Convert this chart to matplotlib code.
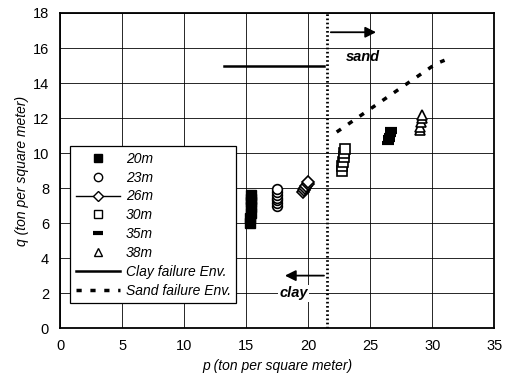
import matplotlib
matplotlib.use("Agg")
import matplotlib.pyplot as plt
from matplotlib.lines import Line2D

plt.rcParams['font.family'] = ['Liberation Sans Narrow', 'Liberation Sans', 'DejaVu Sans']

# ---- data ----
p20 = [15.3, 15.3, 15.35, 15.35, 15.4, 15.4, 15.4]
q20 = [6.0, 6.3, 6.6, 6.9, 7.2, 7.4, 7.6]
p23 = [17.45, 17.45, 17.45, 17.45, 17.5, 17.5, 17.5]
q23 = [7.0, 7.15, 7.3, 7.45, 7.6, 7.8, 7.95]
p26 = [19.55, 19.65, 19.75, 19.85, 19.95, 20.0]
q26 = [7.75, 7.9, 8.0, 8.1, 8.25, 8.35]
p30 = [22.7, 22.75, 22.8, 22.85, 22.9, 22.95]
q30 = [9.0, 9.25, 9.5, 9.75, 10.0, 10.25]
p35 = [26.45, 26.5, 26.55, 26.6, 26.65, 26.7]
q35 = [10.6, 10.75, 10.9, 11.05, 11.2, 11.35]
p38 = [29.0, 29.05, 29.1, 29.15, 29.2]
q38 = [11.3, 11.5, 11.75, 12.0, 12.2]

clay_p = [13.2, 21.3]
clay_q = [15.0, 15.0]
sand_p = [22.3, 30.3, 31.0]
sand_q = [11.2, 15.1, 15.3]

boundary_p = 21.5

xticks = [0, 5, 10, 15, 20, 25, 30, 35]
yticks = [0, 2, 4, 6, 8, 10, 12, 14, 16, 18]

fig = plt.figure(figsize=(5.10, 3.82), dpi=100)
ax = fig.add_axes([0.118, 0.141, 0.851, 0.825])
ax.set_xlim(0, 35)
ax.set_ylim(0, 18)
ax.set_xticks(xticks)
ax.set_yticks(yticks)
ax.grid(True, color='black', lw=0.7, alpha=0.85)
ax.set_axisbelow(True)
ax.tick_params(length=0, labelsize=10.5, pad=8)
for s in ax.spines.values():
    s.set_linewidth(1.3)

ax.set_xlabel('p (ton per square meter)', style='italic', fontsize=10, labelpad=4)
ax.set_ylabel('q (ton per square meter)', style='italic', fontsize=10, labelpad=3)

ms = 7
ax.plot(p20, q20, 's', color='black', ms=ms, ls='none')
ax.plot(p23, q23, 'o', mfc='white', mec='black', mew=1.2, ms=ms, ls='none')
ax.plot(p26, q26, 'D', mfc='white', mec='black', mew=1.2, ms=6, color='black', lw=1)
ax.plot(p30, q30, 's', mfc='white', mec='black', mew=1.2, ms=ms, ls='none')
ax.plot(p35, q35, '_', color='black', mew=3, ms=9, ls='none')
ax.plot(p38, q38, '^', mfc='white', mec='black', mew=1.2, ms=ms, ls='none')

ax.plot(clay_p, clay_q, '-', color='black', lw=1.8)
ax.plot(sand_p, sand_q, color='black', lw=2.5, ls=(0, (1.5, 2.5)))
ax.axvline(boundary_p, color='black', lw=2, ls=(0, (0.6, 0.9)))

ax.annotate('', xy=(25.7, 16.9), xytext=(21.6, 16.9),
            arrowprops=dict(arrowstyle='-|>', color='black', lw=1.3, mutation_scale=16))
ax.text(24.4, 15.5, 'sand', style='italic', fontsize=10.5, ha='center', va='center', weight='bold')
ax.annotate('', xy=(17.9, 3.0), xytext=(21.5, 3.0),
            arrowprops=dict(arrowstyle='-|>', color='black', lw=1.3, mutation_scale=16))
ax.text(18.8, 2.0, 'clay', style='italic', fontsize=10.5, ha='center', va='center', weight='bold',
        bbox=dict(facecolor='white', edgecolor='none', pad=1))

handles = [
    Line2D([], [], marker='s', color='black', ls='none', ms=6),
    Line2D([], [], marker='o', mfc='white', mec='black', ls='none', ms=6),
    Line2D([], [], marker='D', mfc='white', mec='black', color='black', lw=1, ms=5),
    Line2D([], [], marker='s', mfc='white', mec='black', ls='none', ms=6),
    Line2D([], [], marker='_', color='black', mew=3, ls='none', ms=7),
    Line2D([], [], marker='^', mfc='white', mec='black', ls='none', ms=6),
    Line2D([], [], color='black', lw=1.8),
    Line2D([], [], color='black', lw=2.5, ls=(0, (1.5, 2.5))),
]
labels = ['20m', '23m', '26m', '30m', '35m', '38m', 'Clay failure Env.', 'Sand failure Env.']
leg = ax.legend(handles, labels, loc='lower left', bbox_to_anchor=(0.023, 0.079),
                fancybox=False, edgecolor='black', framealpha=1,
                prop={'style': 'italic', 'size': 10}, handlelength=3.2, borderpad=0.4,
                labelspacing=0.35, handletextpad=0.4, borderaxespad=0)
leg.get_frame().set_linewidth(0.9)

fig.savefig('out.png', dpi=100)
